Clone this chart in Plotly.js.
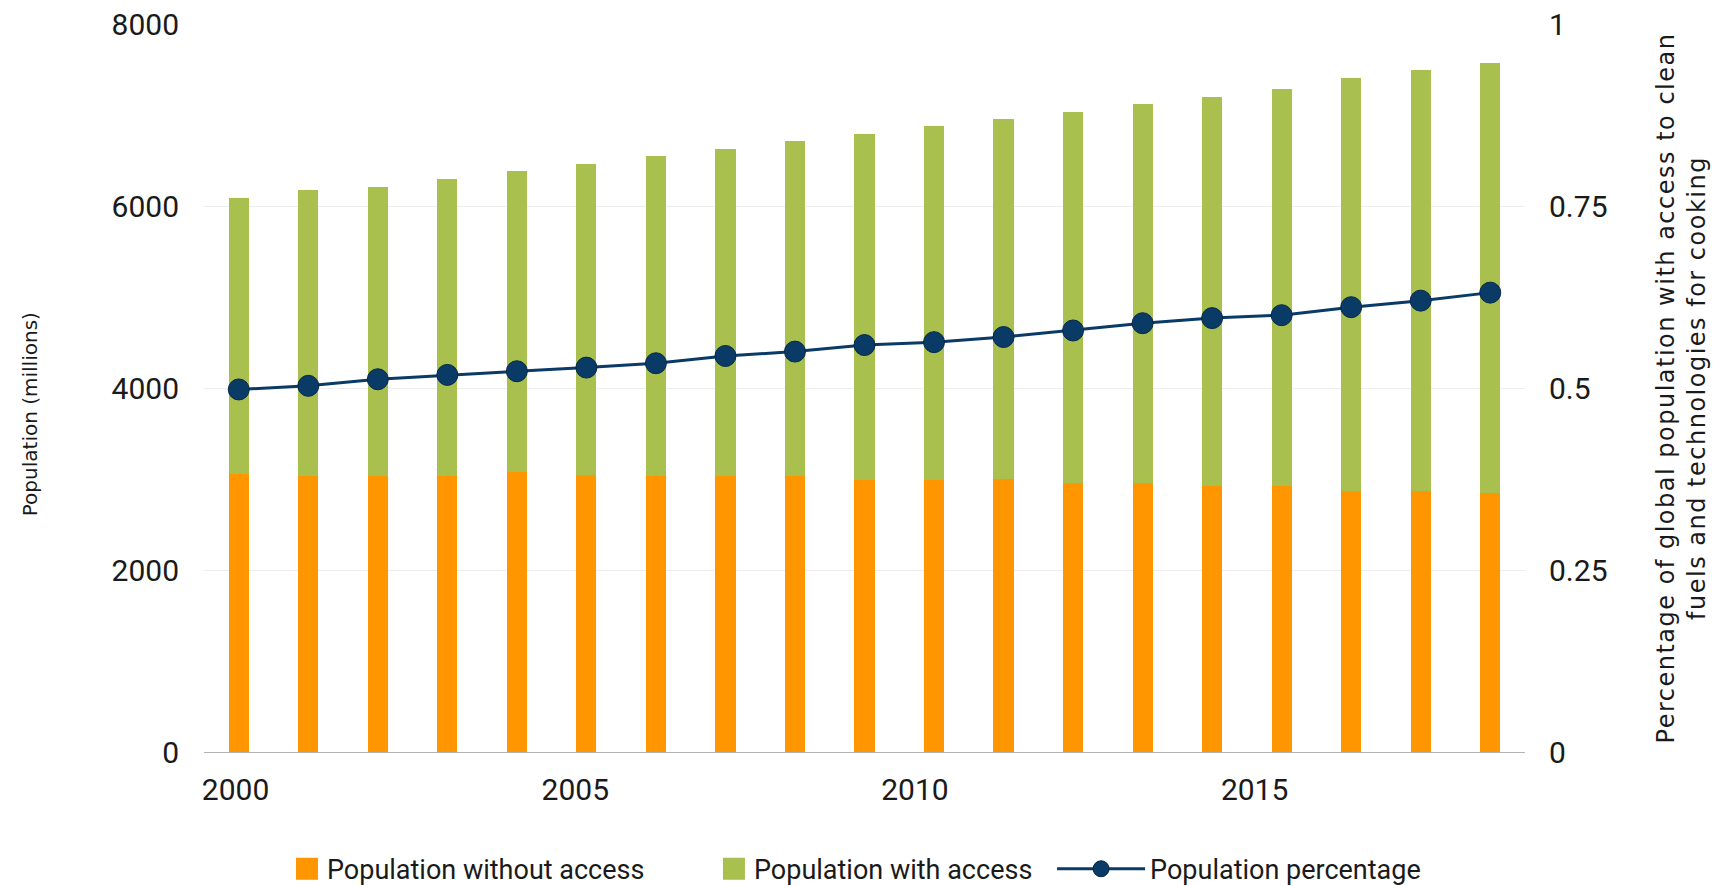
<!DOCTYPE html>
<html>
<head>
<meta charset="utf-8">
<script src="https://cdn.plot.ly/plotly-3.0.1.min.js"></script>
<style>
  html, body { margin: 0; padding: 0; background: #ffffff; }
  #chart { width: 1718px; height: 886px; }
  #chart .g-y2title text { letter-spacing: 1.5px; }
</style>
</head>
<body>
<div id="chart"></div>
<script>
// Global population by access to clean cooking fuels, 2000-2018
const years = [2000, 2001, 2002, 2003, 2004, 2005, 2006, 2007, 2008, 2009,
               2010, 2011, 2012, 2013, 2014, 2015, 2016, 2017, 2018];

// Total population (millions)
const totalPopulation = [6091, 6179, 6212, 6300, 6381, 6464, 6552, 6629, 6711, 6794,
                         6879, 6959, 7036, 7121, 7201, 7286, 7410, 7494, 7575];

// Population without access (millions)
const withoutAccess = [3050, 3034, 3034, 3034, 3078, 3042, 3034, 3034, 3034, 2987,
                       2987, 2995, 2957, 2957, 2921, 2921, 2869, 2869, 2841];

// Share of population with access
const accessShare = [0.498, 0.503, 0.512, 0.518, 0.523, 0.528, 0.534, 0.544, 0.550, 0.559,
                     0.563, 0.570, 0.579, 0.589, 0.596, 0.600, 0.611, 0.620, 0.631];

const withAccess = totalPopulation.map((t, i) => t - withoutAccess[i]);

const tickYears = [2000, 2005, 2010, 2015];

const ORANGE = '#ff9600';
const GREEN = '#a9c04f';
const NAVY = '#0a3a66';
const FONT = 'Roboto, sans-serif';
const TITLE_FONT = 'DejaVu Sans, sans-serif';
const INK = '#1a1a1a';

const traces = [
  {
    type: 'bar', name: 'Population without access',
    x: years, y: withoutAccess, width: 0.29,
    marker: { color: ORANGE }, hoverinfo: 'skip', legend: 'legend'
  },
  {
    type: 'bar', name: 'Population with access',
    x: years, y: withAccess, width: 0.29,
    marker: { color: GREEN }, hoverinfo: 'skip', legend: 'legend'
  },
  {
    type: 'scatter', mode: 'lines+markers', name: 'Population percentage',
    x: years, y: accessShare, yaxis: 'y2',
    line: { color: NAVY, width: 3 },
    marker: { color: NAVY, size: 21, line: { color: '#06284a', width: 1 } },
    hoverinfo: 'skip', legend: 'legend2'
  },
  {
    // empty carrier so the year-label axis is laid out
    type: 'scatter', mode: 'none', x: tickYears, y: tickYears.map(() => null),
    xaxis: 'x2', yaxis: 'y', showlegend: false, hoverinfo: 'skip'
  }
];

const legendBase = {
  orientation: 'h', y: -0.161, yanchor: 'middle', xanchor: 'left',
  font: { family: FONT, size: 27, color: INK }, traceorder: 'normal',
  bgcolor: 'rgba(0,0,0,0)'
};

const layout = {
  width: 1718, height: 886,
  margin: { l: 204, r: 193, t: 24, b: 134, autoexpand: false },
  paper_bgcolor: '#ffffff', plot_bgcolor: '#ffffff',
  font: { family: FONT, size: 28, color: INK },
  barmode: 'stack',
  showlegend: true,
  // bar axis: baseline only
  xaxis: {
    range: [1999.5, 2018.5],
    showticklabels: false, ticks: '', showgrid: false, zeroline: false,
    showline: true, linecolor: '#b4b4b4', linewidth: 1.2
  },
  // year labels along the bottom
  xaxis2: {
    overlaying: 'x', anchor: 'y', side: 'bottom',
    range: [1999.535, 2018.98],
    tickvals: tickYears, ticktext: tickYears.map(String),
    ticks: '', showgrid: false, zeroline: false, showline: false,
    ticklabelstandoff: 17,
    tickfont: { family: FONT, size: 30, color: INK }
  },
  yaxis: {
    range: [0, 8000], tickvals: [0, 2000, 4000, 6000, 8000],
    ticks: '', showgrid: true, gridcolor: '#ededed', gridwidth: 1,
    zeroline: false, showline: false,
    ticklabelstandoff: 24,
    tickfont: { family: FONT, size: 30, color: INK }
  },
  yaxis2: {
    overlaying: 'y', side: 'right',
    range: [0, 1], tickvals: [0, 0.25, 0.5, 0.75, 1],
    ticktext: ['0', '0.25', '0.5', '0.75', '1'],
    ticks: '', showgrid: false, zeroline: false, showline: false,
    ticklabelstandoff: 23,
    tickfont: { family: FONT, size: 30, color: INK },
    title: { text: 'Percentage of global population with access to clean<br>fuels and technologies for cooking',
             standoff: 50,
             font: { family: TITLE_FONT, size: 24, color: INK } }
  },
  annotations: [{
    text: 'Population (millions)', textangle: -90,
    xref: 'paper', yref: 'paper', x: -0.1317, y: 0.464,
    xanchor: 'center', yanchor: 'middle', showarrow: false,
    font: { family: TITLE_FONT, size: 20, color: INK }
  }],
  legend: Object.assign({}, legendBase, { x: 0.0628, itemwidth: 30, entrywidth: 382 }),
  legend2: Object.assign({}, legendBase, { x: 0.642, itemwidth: 88 })
};

Plotly.newPlot('chart', traces, layout, { displayModeBar: false, staticPlot: true }).then(gd => {
  // larger swatches for the bar series in the legend
  gd.querySelectorAll('.legend .legendpoints path').forEach(p => {
    if (p.getAttribute('d') === 'M6,6H-6V-6H6Z') p.setAttribute('d', 'M11,11H-11V-11H11Z');
  });
});
</script>
</body>
</html>
